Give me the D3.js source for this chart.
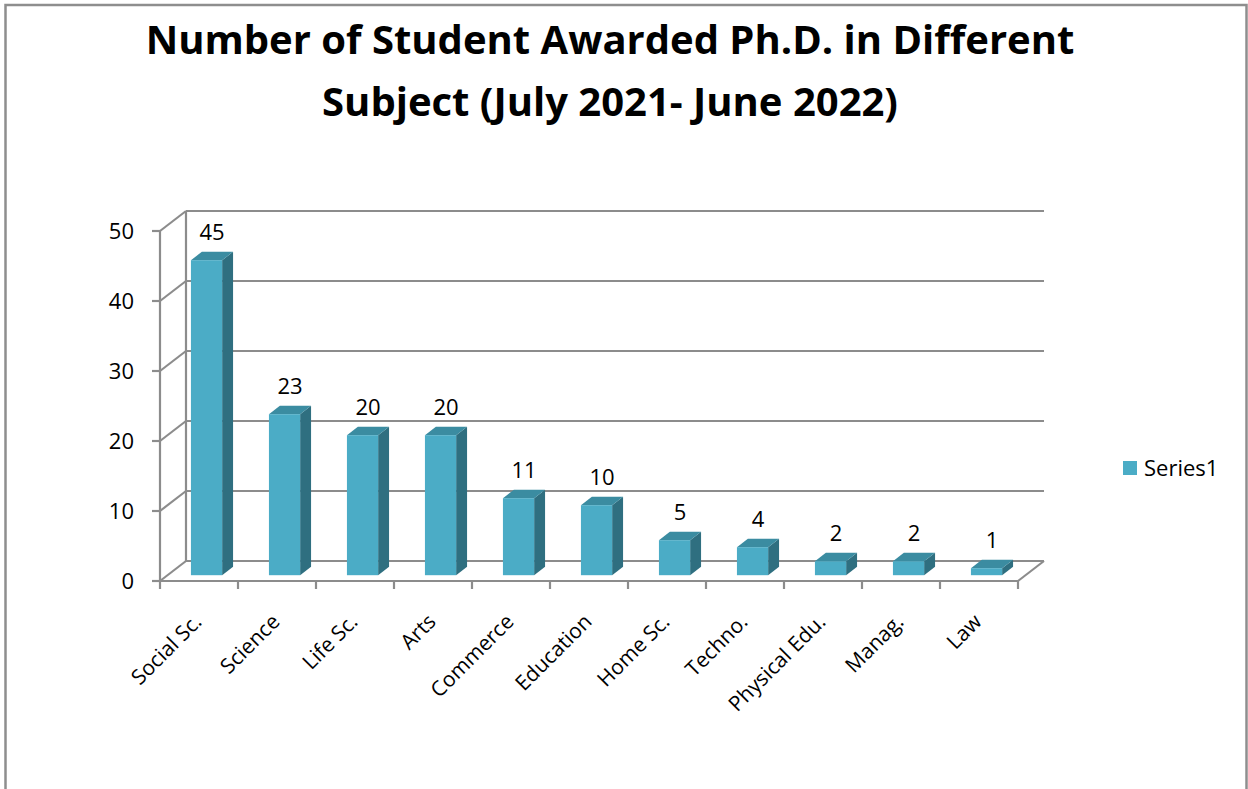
<!DOCTYPE html>
<html>
<head>
<meta charset="utf-8">
<style>
  body{
    margin: 0;
    background: white;
    font-family: 'Open Sans', sans-serif;
  }
  svg { display: block; }
</style>
</head>
<body>
<svg id='svgVis'></svg>

<script src="https://cdn.jsdelivr.net/npm/d3@7"></script>
<script>

var subjects = ['Social Sc.', 'Science', 'Life Sc.', 'Arts', 'Commerce', 'Education',
                'Home Sc.', 'Techno.', 'Physical Edu.', 'Manag.', 'Law'];
var awarded = [45, 23, 20, 20, 11, 10, 5, 4, 2, 2, 1];
var yTicks = [0, 10, 20, 30, 40, 50];
var seriesName = 'Series1';
var titleLines = ['Number of Student Awarded Ph.D. in Different', 'Subject (July 2021- June 2022)'];

var width = 1248, height = 789;

// 3d depth offset of the back wall
var dx = 26, dy = -20;
var barFront = 0.29, barBack = 0.71;

var colFront = '#4bacc6', colSide = '#2f6f80', colTop = '#3b8ca1';
var gridCol = '#8c8c8c';

var svg = d3.select('#svgVis')
    .attr('width', width)
    .attr('height', height);

// frame
svg.append('rect')
  .attr('x', 5.5).attr('y', 5)
  .attr('width', 1241).attr('height', 820)
  .attr('fill', 'none')
  .attr('stroke', '#8e8e8e')
  .attr('stroke-width', 2.5);

var x = d3.scaleBand()
    .domain(subjects)
    .range([160, 1018])
    .paddingInner(0.6)
    .paddingOuter(0.3);

var y = d3.scaleLinear()
    .domain([0, 50])
    .range([581, 231]);

var x0 = x.range()[0], x1 = x.range()[1];
var step = x.step();
var bw = x.bandwidth();

// back wall gridlines + side wall
var grid = svg.append('g')
    .attr('stroke', gridCol)
    .attr('stroke-width', 2.2)
    .attr('fill', 'none');

grid.selectAll('.hline')
  .data(yTicks)
  .enter()
  .append('line')
  .attr('x1', x0 + dx).attr('x2', x1 + dx)
  .attr('y1', function(d) { return y(d) + dy; })
  .attr('y2', function(d) { return y(d) + dy; });

grid.selectAll('.dline')
  .data(yTicks)
  .enter()
  .append('line')
  .attr('x1', x0).attr('x2', x0 + dx)
  .attr('y1', function(d) { return y(d); })
  .attr('y2', function(d) { return y(d) + dy; });

grid.append('line')
  .attr('x1', x0 + dx).attr('x2', x0 + dx)
  .attr('y1', y(0) + dy).attr('y2', y(50) + dy);

// floor
grid.append('line')
  .attr('x1', x1).attr('x2', x1 + dx)
  .attr('y1', y(0)).attr('y2', y(0) + dy);

// front axes
var axisG = svg.append('g')
    .attr('stroke', gridCol)
    .attr('stroke-width', 2.2);

axisG.append('line')
  .attr('x1', x0).attr('x2', x0)
  .attr('y1', y(50)).attr('y2', y(0));

axisG.append('line')
  .attr('x1', x0).attr('x2', x1)
  .attr('y1', y(0)).attr('y2', y(0));

axisG.selectAll('.ytick')
  .data(yTicks)
  .enter()
  .append('line')
  .attr('x1', x0 - 8).attr('x2', x0)
  .attr('y1', function(d) { return y(d); })
  .attr('y2', function(d) { return y(d); });

axisG.selectAll('.xtick')
  .data(d3.range(subjects.length + 1))
  .enter()
  .append('line')
  .attr('x1', function(i) { return x0 + i * step; })
  .attr('x2', function(i) { return x0 + i * step; })
  .attr('y1', y(0)).attr('y2', y(0) + 8);

// y labels
svg.selectAll('.ylab')
  .data(yTicks)
  .enter()
  .append('text')
  .attr('x', 134)
  .attr('y', function(d) { return y(d); })
  .attr('dy', '0.36em')
  .attr('text-anchor', 'end')
  .style('font-size', '22px')
  .style('fill', '#000')
  .text(function(d) { return d; });

// bars
var bars = svg.selectAll('.bar')
  .data(subjects)
  .enter()
  .append('g');

function pt(px, py) { return px + ',' + py; }

bars.each(function(d, i) {
  var g = d3.select(this);
  var v = awarded[i];
  var fx = x(d) + barFront * dx, fy0 = y(0) + barFront * dy, fy1 = y(v) + barFront * dy;
  var ddx = (barBack - barFront) * dx, ddy = (barBack - barFront) * dy;

  // side
  g.append('polygon')
    .attr('points', [pt(fx + bw, fy0), pt(fx + bw + ddx, fy0 + ddy),
                     pt(fx + bw + ddx, fy1 + ddy), pt(fx + bw, fy1)].join(' '))
    .attr('fill', colSide);
  // top
  g.append('polygon')
    .attr('points', [pt(fx, fy1), pt(fx + bw, fy1),
                     pt(fx + bw + ddx, fy1 + ddy), pt(fx + ddx, fy1 + ddy)].join(' '))
    .attr('fill', colTop);
  // front
  g.append('rect')
    .attr('x', fx).attr('y', fy1)
    .attr('width', bw).attr('height', fy0 - fy1)
    .attr('fill', colFront);

  // value label
  g.append('text')
    .attr('x', x(d) + bw / 2 + 0.5 * dx)
    .attr('y', fy1 + ddy - 12)
    .attr('text-anchor', 'middle')
    .style('font-size', '22px')
    .style('fill', '#000')
    .text(v);
});

// category labels
svg.selectAll('.xlab')
  .data(subjects)
  .enter()
  .append('text')
  .attr('transform', function(d) {
    return 'translate(' + (x(d) + bw / 2 + 4) + ',' + 623 + ') rotate(-45)';
  })
  .attr('text-anchor', 'end')
  .style('font-size', '21px')
  .style('fill', '#000')
  .text(function(d) { return d; });

// title
svg.selectAll('.title')
  .data(titleLines)
  .enter()
  .append('text')
  .attr('x', 610)
  .attr('y', function(d, i) { return 54 + i * 62; })
  .attr('text-anchor', 'middle')
  .style('font-size', '40px')
  .style('font-weight', 'bold')
  .style('fill', '#000')
  .text(function(d) { return d; });

// legend
svg.append('rect')
  .attr('x', 1123).attr('y', 461)
  .attr('width', 14).attr('height', 14)
  .attr('fill', colFront);

svg.append('text')
  .attr('x', 1144).attr('y', 476)
  .style('font-size', '22px')
  .style('fill', '#000')
  .text(seriesName);

</script>
</body>
</html>
